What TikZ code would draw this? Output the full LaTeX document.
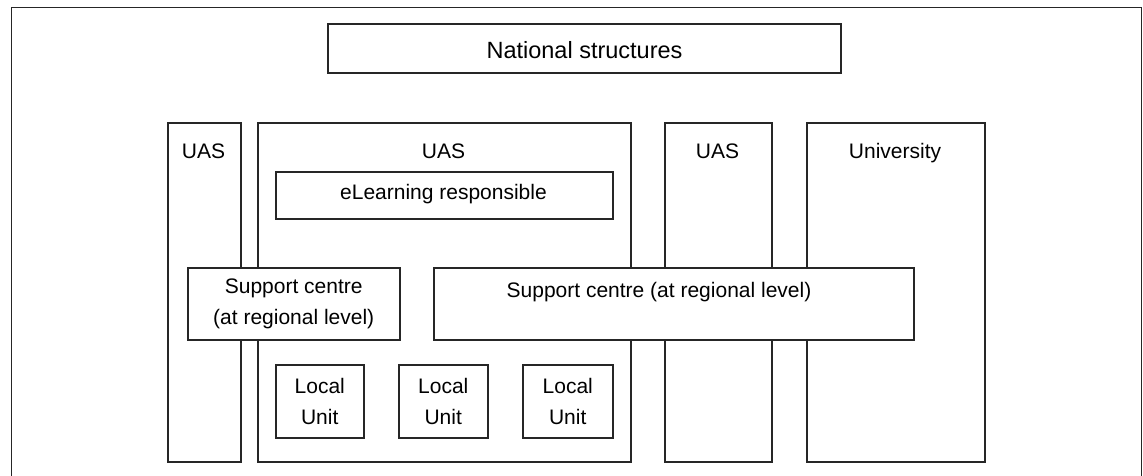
\documentclass[tikz,border=0pt]{standalone}
\usepackage{fontspec}
\setmainfont{Liberation Sans}
\begin{document}
\begin{tikzpicture}[x=1pt,y=-1pt,
  box/.style={draw=black!85, line width=1.5pt, fill=white, rectangle, inner sep=0pt},
  lbl/.style={font=\fontsize{21}{31}\selectfont, inner sep=0pt, align=center, text=black}]
\useasboundingbox (0,0) rectangle (1143,475);
\begin{scope}
\clip (0,0) rectangle (1143,475);
\draw[line width=1.5pt, black!85] (11.5,490) -- (11.5,7.5) -- (1141.5,7.5) -- (1141.5,490);
\end{scope}
% national
\node[box, minimum width=513pt, minimum height=49pt] (nat) at (584.5,48.5) {};
\node[lbl, font=\fontsize{23.5}{28}\selectfont, anchor=base] (natl) at (584.5,58) {National structures};
% column boxes
\node[box, minimum width=73pt, minimum height=339pt, anchor=north west] (uas1) at (167,122) {};
\node[box, minimum width=373pt, minimum height=339pt, anchor=north west] (uas2) at (257,122) {};
\node[box, minimum width=107pt, minimum height=339pt, anchor=north west] (uas3) at (664,122) {};
\node[box, minimum width=178pt, minimum height=339pt, anchor=north west] (univ) at (806,122) {};
\node[lbl, anchor=base] (uas1l) at (203.5,158) {UAS};
\node[lbl, anchor=base] (uas2l) at (443.5,158) {UAS};
\node[lbl, anchor=base] (uas3l) at (717.5,158) {UAS};
\node[lbl, anchor=base] (univl) at (895,158) {University};
% eLearning
\node[box, minimum width=337pt, minimum height=47pt, anchor=north west] (elr) at (275,171) {};
\node[lbl, anchor=base] (elrl) at (443.5,199) {eLearning responsible};
% support centres
\node[box, minimum width=212pt, minimum height=72pt, anchor=north west] (sup1) at (187,267) {};
\node[lbl] (sup1l) at (sup1.center) {Support centre\\(at regional level)};
\node[box, minimum width=480pt, minimum height=72pt, anchor=north west] (sup2) at (433,267) {};
\node[lbl, anchor=base] (sup2l) at (659,297) {Support centre (at regional level)};
% local units
\node[box, minimum width=88pt, minimum height=73pt, anchor=north west] (lu1) at (275,364) {};
\node[box, minimum width=89pt, minimum height=73pt, anchor=north west] (lu2) at (398,364) {};
\node[box, minimum width=90pt, minimum height=73pt, anchor=north west] (lu3) at (522,364) {};
\node[lbl] (lu1l) at (lu1.center) {Local\\Unit};
\node[lbl] (lu2l) at (lu2.center) {Local\\Unit};
\node[lbl] (lu3l) at (lu3.center) {Local\\Unit};
\end{tikzpicture}
\end{document}
